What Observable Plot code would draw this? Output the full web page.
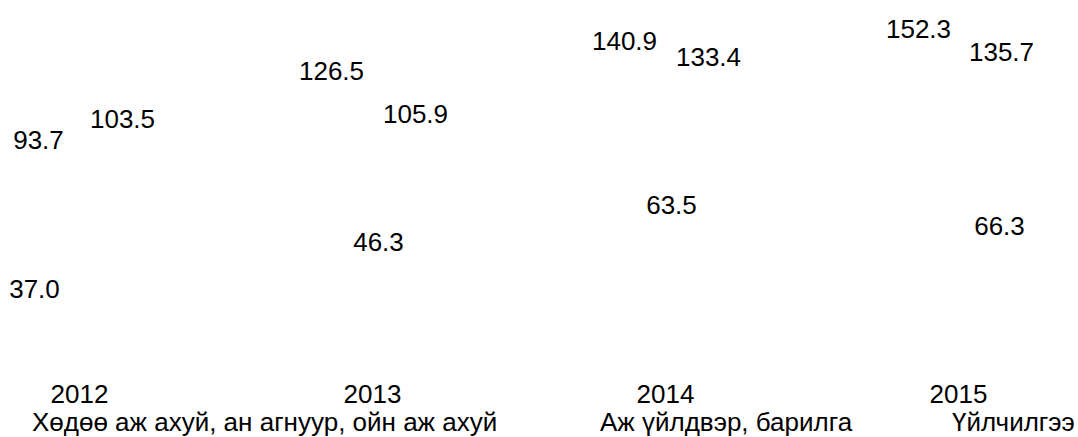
<!DOCTYPE html>
<html>
<head>
<meta charset="utf-8">
<script src="https://cdn.jsdelivr.net/npm/d3@7"></script>
<script src="https://cdn.jsdelivr.net/npm/@observablehq/plot@0.6"></script>
<style>
  html, body { margin: 0; padding: 0; background: #fff; }
  body { font-family: "Liberation Sans", Arial, sans-serif; color: #000; width: 1078px; overflow: hidden; }
  #legend { position: relative; height: 29px; margin-top: 1px; font-size: 26px; line-height: 26px; }
  #legend span { position: absolute; top: 0; white-space: nowrap; }
</style>
</head>
<body>
<div id="chart"></div>
<div id="legend"></div>
<script>
// ---- data ----
const years = [2012, 2013, 2014, 2015];
const seriesNames = [
  "Хөдөө аж ахуй, ан агнуур, ойн аж ахуй",
  "Аж үйлдвэр, барилга",
  "Үйлчилгээ"
];
const agriculture = [37.0, 46.3, 63.5, 66.3];
const industry    = [93.7, 126.5, 140.9, 152.3];
const services    = [103.5, 105.9, 133.4, 135.7];
// where each value label sits around its year
const agriculturePlace = ["leftLow", "mid", "mid", "rightLow"];
const industryPlace    = ["left", "left", "left", "leftTop"];
const servicesPlace    = ["right", "right", "right", "right"];

// ---- label placement styles ----
const placeStyle = {
  left:     {dx: -41, dy: 0},
  right:    {dx: 43,  dy: 0},
  mid:      {dx: 6,   dy: 2},
  leftLow:  {dx: -45, dy: 30},
  rightLow: {dx: 41,  dy: 28},
  leftTop:  {dx: -40, dy: 12}
};
const legendLeft = [32, 600, 952];

const rows = [];
[[agriculture, agriculturePlace, 0], [industry, industryPlace, 1], [services, servicesPlace, 2]]
  .forEach(([vals, places, si]) => {
    vals.forEach((v, i) => rows.push({year: years[i], value: v, series: seriesNames[si], place: places[i]}));
  });

const FONT = "Liberation Sans, Arial, sans-serif";

const chart = Plot.plot({
  width: 1078,
  height: 408,
  marginLeft: 79,
  marginRight: 120,
  marginTop: 1,
  marginBottom: 71,
  style: {fontFamily: FONT, fontSize: "26px", color: "#000", background: "#fff", overflow: "visible"},
  x: {type: "linear", domain: [2012, 2015]},
  y: {domain: [0, 160], axis: null},
  marks: [
    Plot.axisX({ticks: years, tickFormat: d => String(d), tickSize: 0, tickPadding: 47, label: null, fontSize: 26, fill: "#000"}),
    ...Object.entries(placeStyle).map(([p, s]) =>
      Plot.text(rows.filter(r => r.place === p), {
        x: "year",
        y: "value",
        text: d => d.value.toFixed(1),
        dx: s.dx,
        dy: s.dy,
        fontSize: 26,
        fill: "#000"
      })
    )
  ]
});
document.getElementById("chart").appendChild(chart);

const legend = document.getElementById("legend");
seriesNames.forEach((name, i) => {
  const s = document.createElement("span");
  s.textContent = name;
  s.style.left = legendLeft[i] + "px";
  legend.appendChild(s);
});
</script>
</body>
</html>
